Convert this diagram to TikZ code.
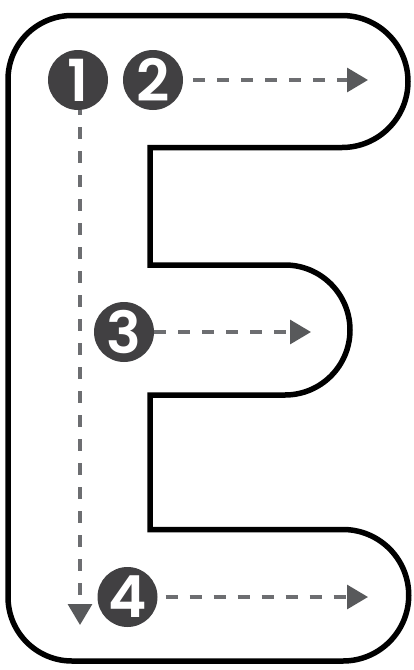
\documentclass[tikz,border=0pt]{standalone}
\usepackage{fontspec}
\setmainfont{Poppins SemiBold}
\usetikzlibrary{arrows.meta}
\definecolor{badge}{HTML}{414042}
\definecolor{tip}{HTML}{58595B}
\definecolor{dash}{HTML}{6D6E71}
\tikzset{
  badge/.style={circle,fill=badge,minimum size=60pt,inner sep=0pt,text=white,font=\fontsize{58}{58}\selectfont},
  outline/.style={draw=black,line width=5.5pt,miter limit=10},
  flow/.style={draw=dash,line width=3.2pt,dash pattern=on 12pt off 12pt,
    -{Triangle[length=21pt,width=24pt,color=tip]}},
}
\begin{document}
\begin{tikzpicture}[x=1pt,y=-1pt]
\useasboundingbox (0,0) rectangle (413,670);
\draw[outline] (72,15.5) -- (342,15.5) arc[start angle=-90,end angle=90,radius=66] -- (150,147.5) -- (150,265) -- (285,265)
  arc[start angle=-90,end angle=90,radius=65] -- (150,395) -- (150,529.5) -- (343,529.5)
  arc[start angle=-90,end angle=90,radius=65.75] -- (72,661)
  arc[start angle=90,end angle=180,radius=64] -- (8,79.5) arc[start angle=180,end angle=270,radius=64] -- cycle;
\node[badge] (n1) at (78,80) {1};
\node[badge] (n2) at (153,80) {2};
\node[badge] (n3) at (124,332) {3};
\node[badge] (n4) at (127.5,597) {4};
\coordinate (e1) at (80,625);
\coordinate (e2) at (368,80);
\coordinate (e3) at (311,332);
\coordinate (e4) at (368,597);
\draw[flow,dash phase=7pt] (n1.south -| e1) -- (e1);
\draw[flow,shorten <=10pt] (n2.east) -- (e2);
\draw[flow] (n3.east) -- (e3);
\draw[flow,shorten <=8pt] (n4.east) -- (e4);
\end{tikzpicture}
\end{document}
